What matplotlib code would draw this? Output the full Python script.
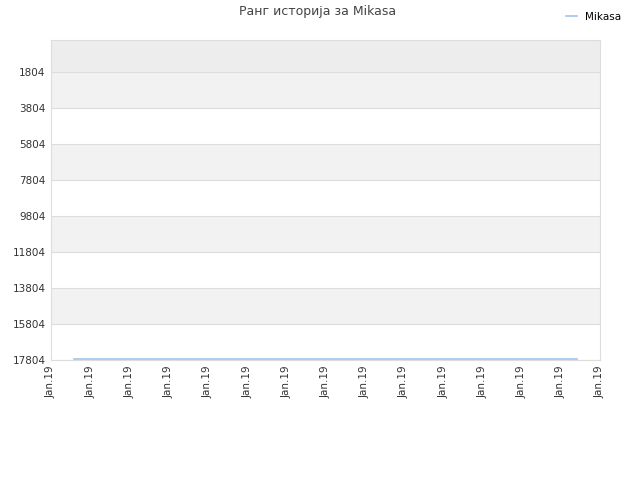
import matplotlib
matplotlib.use("Agg")
import matplotlib.pyplot as plt

# rank history (one flat series)
x_pos = [0.59, 2.0, 4.0, 6.0, 8.0, 10.0, 12.0, 13.42]
ranks = [17750, 17750, 17750, 17750, 17750, 17750, 17750, 17750]
tick_pos = list(range(15))
tick_labels = ["Jan.19"] * 15
y_ticks = [1804, 3804, 5804, 7804, 9804, 11804, 13804, 15804, 17804]

fig = plt.figure(figsize=(6.4, 4.8), dpi=100)
ax = fig.add_axes([51 / 640, 1 - 360 / 480, 549 / 640, 320 / 480])

y_top = 26
y_bot = 17804
ax.set_xlim(0, 14)
ax.set_ylim(y_bot, y_top)

# background bands
ax.axhspan(y_top, 1804, color="#ededed", zorder=0, lw=0)
for i in range(len(y_ticks) - 1):
    col = "#f2f2f2" if i % 2 == 0 else "white"
    ax.axhspan(y_ticks[i], y_ticks[i + 1], color=col, zorder=0, lw=0)
for t in y_ticks:
    ax.axhline(t, color="#dddddd", lw=0.8, zorder=1)

ax.plot(x_pos, ranks, color="#9fc5ee", lw=1.2, label="Mikasa", zorder=3)

ax.set_yticks(y_ticks)
ax.set_yticklabels([str(v) for v in y_ticks], fontsize=7.5, color="#333333")
ax.set_xticks(tick_pos)
ax.set_xticklabels(tick_labels, rotation=90, fontsize=7.5, color="#333333")
ax.tick_params(length=0, pad=4)

for s in ax.spines.values():
    s.set_color("#dddddd")

fig.text(318 / 640, 1 - 12 / 480, "Ранг историја за Mikasa", ha="center", va="center",
         fontsize=9, color="#444444")
fig.legend(loc="upper right", bbox_to_anchor=(0.985, 0.995), frameon=False,
           fontsize=7.5, handlelength=1.0, handletextpad=0.8)

fig.savefig("out.png", dpi=100)
